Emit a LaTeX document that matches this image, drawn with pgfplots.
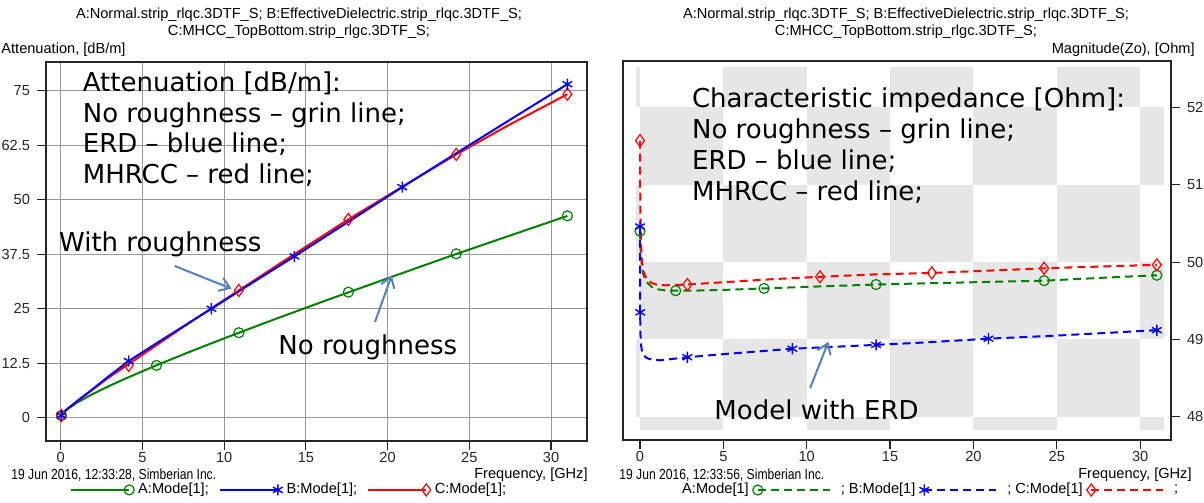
\documentclass[border=0pt]{standalone}
\usepackage{pgfplots}
\pgfplotsset{compat=1.18}
\usepackage{fontspec}
\setmainfont{Liberation Sans}
\newfontfamily\annfont{DejaVu Sans}
\newfontfamily\datefont{Liberation Sans}[FakeStretch=0.83]
\usetikzlibrary{arrows.meta}
\definecolor{dgreen}{RGB}{0,128,0}
\definecolor{arrowblue}{RGB}{84,130,190}
\definecolor{cell}{RGB}{230,230,230}
\newcommand{\smallf}{\fontsize{7.3}{8.5}\selectfont}
\newcommand{\annf}{\annfont\fontsize{13}{15}\selectfont}
\tikzset{arr/.style={arrowblue, line width=1pt, -{Straight Barb[length=5pt,width=7pt]}}}
\pgfplotsset{
  mystyle/.style={
    scale only axis,
    /pgf/number format/assume math mode=true,
    tick label style={font=\smallf, text=black!85},
    xticklabel style={inner sep=0.8pt},
    axis line style={black!85, line width=0.6pt},
    tick style={black!85, line width=0.6pt},
    major tick length=4.5pt,
    tick align=outside,
    xtick={0,5,10,15,20,25,30},
    xtick pos=lower,
    legend style={draw=none, fill=none, font=\smallf, inner sep=0pt,
      /tikz/every even column/.append style={column sep=3pt}},
  },
  endmark legend/.style={legend image code/.code={\draw[mark repeat=2, mark phase=2, ##1] plot coordinates {(0pt,0pt) (29pt,0pt)};}},
  startmark legend/.style={legend image code/.code={\draw[mark repeat=2, mark phase=1, ##1] plot coordinates {(0pt,0pt) (36pt,0pt)};}},
  no legend image/.style={legend image code/.code={}},
}
\begin{document}
\begin{tikzpicture}[font=\smallf]
\useasboundingbox (0,0) rectangle (602pt,251.5pt);
% titles and labels
\node[align=center, inner sep=0pt] at (149.5pt,239.75pt) {A:Normal.strip\_rlqc.3DTF\_S; B:EffectiveDielectric.strip\_rlqc.3DTF\_S;\\C:MHCC\_TopBottom.strip\_rlgc.3DTF\_S;};
\node[align=center, inner sep=0pt] at (453pt,239.75pt) {A:Normal.strip\_rlqc.3DTF\_S; B:EffectiveDielectric.strip\_rlqc.3DTF\_S;\\C:MHCC\_TopBottom.strip\_rlgc.3DTF\_S;};
\node[anchor=west, inner sep=0pt] at (0.5pt,226.5pt) {Attenuation, [dB/m]};
\node[anchor=east, inner sep=0pt] at (597.5pt,226.5pt) {Magnitude(Zo), [Ohm]};
\node[anchor=west, inner sep=0pt, font=\datefont\smallf] at (5.5pt,14pt) {19 Jun 2016, 12:33:28, Simberian Inc.};
\node[anchor=east, inner sep=0pt] at (294pt,14pt) {Frequency, [GHz]};
\node[anchor=west, inner sep=0pt, font=\datefont\smallf] at (309.5pt,14pt) {19 Jun 2016, 12:33:56, Simberian Inc.};
\node[anchor=east, inner sep=0pt] at (596pt,14pt) {Frequency, [GHz]};

% ---------------- left chart -----------------
\begin{axis}[mystyle,
  at={(23pt,31pt)}, anchor=south west,
  width=270.5pt, height=189.5pt,
  xmin=-0.9, xmax=32.2, ymin=-5.34, ymax=81.6,
  ytick={0,12.5,25,37.5,50,62.5,75},
  yticklabels={0,12.5,25,37.5,50,62.5,75},
  ytick pos=left,
  grid=major, major grid style={black!40, line width=0.5pt},
  legend columns=3,
  legend style={at={(0.044,-0.129)}, anchor=west},
]
\addplot[dgreen, line width=1pt, forget plot] coordinates {
 (0,0.45) (0.25,1.47) (0.5,2.22) (1,3.46) (2,5.52) (3,7.34) (4,9.04) (6,12.25) (8,15.28)
 (10,18.21) (13,22.46) (16,26.59) (20,31.98) (24,37.3) (28,42.44) (31,46.29)};
\addplot[red, line width=1pt, forget plot] coordinates {
 (0,0.5) (0.25,1.5) (0.5,2.3) (1,3.7) (2,6.6) (3,9.4) (4.16,12.3) (6,17.0) (8,22.1)
 (10.9,29.2) (14,36.8) (17.6,45.5) (21,53.2) (24.2,60.4) (27.5,67.3) (31,74.2)};
\addplot[blue, line width=1pt, forget plot] coordinates {
 (0,0.5) (0.25,1.5) (0.5,2.3) (1,3.8) (2,6.7) (3,9.7) (4.16,13.0) (6,17.4) (9.22,25.0)
 (12,31.6) (14.3,37.0) (17,43.5) (20.9,52.9) (24,60.2) (27,67.2) (31,76.5)};
\addplot[dgreen, only marks, mark=o, mark size=2.5pt, mark options={line width=0.6pt}, forget plot] coordinates {
 (0.04,0.5) (5.86,12.0) (10.9,19.5) (17.6,28.8) (24.2,37.6) (31,46.3)};
\addplot[red, only marks, mark=diamond, mark size=3pt, mark options={line width=0.6pt}, forget plot] coordinates {
 (0.04,0.5) (4.16,12.0) (10.9,29.2) (17.6,45.5) (24.2,60.4) (31,74.2)};
\addplot[blue, only marks, mark=asterisk, mark size=2.8pt, mark options={line width=0.7pt}, forget plot] coordinates {
 (0.04,0.5) (4.16,13.0) (9.22,25.0) (14.3,37.0) (20.9,52.9) (31,76.5)};
% annotations
\node[anchor=base west, inner sep=0pt, font=\annf] at (axis cs:1.33,74.9) {Attenuation [dB/m]:};
\node[anchor=base west, inner sep=0pt, font=\annf] at (axis cs:1.33,67.8) {No roughness – grin line;};
\node[anchor=base west, inner sep=0pt, font=\annf] at (axis cs:1.33,60.8) {ERD – blue line;};
\node[anchor=base west, inner sep=0pt, font=\annf] at (axis cs:1.33,53.8) {MHRCC – red line;};
\node[anchor=base west, inner sep=0pt, font=\annf] at (axis cs:-0.12,38.2) {With roughness};
\node[anchor=base west, inner sep=0pt, font=\annf] at (axis cs:13.3,14.45) {No roughness};
\draw[arr] (axis cs:6.98,34.8) -- (axis cs:10.45,29.6);
\draw[arr] (axis cs:19.23,21.95) -- (axis cs:20.25,32.66);
% legend
\addlegendimage{dgreen, line width=1pt, mark=o, mark size=2.5pt, mark options={line width=0.6pt}, endmark legend}
\addlegendentry{A:Mode[1];}
\addlegendimage{blue, line width=1pt, mark=asterisk, mark size=2.8pt, mark options={line width=0.7pt}, endmark legend}
\addlegendentry{B:Mode[1];}
\addlegendimage{red, line width=1pt, mark=diamond, mark size=3pt, mark options={line width=0.6pt}, endmark legend}
\addlegendentry{C:Mode[1];}
\end{axis}

% ---------------- right chart -----------------
\begin{axis}[mystyle,
  at={(311.5pt,31.5pt)}, anchor=south west,
  width=274pt, height=189.5pt,
  xmin=-1.02, xmax=31.85, ymin=47.70, ymax=52.60,
  ytick={48,49,50,51,52},
  ytick pos=right, yticklabel pos=right,
  legend columns=4, legend plot pos=right,
  legend style={at={(0.10,-0.132)}, anchor=west},
]
% checkerboard background
\fill[cell] (axis cs:-0.24,52) rectangle (axis cs:0,52.52);
\fill[cell] (axis cs:5,52) rectangle (axis cs:10,52.52);
\fill[cell] (axis cs:15,52) rectangle (axis cs:20,52.52);
\fill[cell] (axis cs:25,52) rectangle (axis cs:30,52.52);
\fill[cell] (axis cs:0,51) rectangle (axis cs:5,52);
\fill[cell] (axis cs:10,51) rectangle (axis cs:15,52);
\fill[cell] (axis cs:20,51) rectangle (axis cs:25,52);
\fill[cell] (axis cs:30,51) rectangle (axis cs:31.4,52);
\fill[cell] (axis cs:-0.24,50) rectangle (axis cs:0,51);
\fill[cell] (axis cs:5,50) rectangle (axis cs:10,51);
\fill[cell] (axis cs:15,50) rectangle (axis cs:20,51);
\fill[cell] (axis cs:25,50) rectangle (axis cs:30,51);
\fill[cell] (axis cs:0,49) rectangle (axis cs:5,50);
\fill[cell] (axis cs:10,49) rectangle (axis cs:15,50);
\fill[cell] (axis cs:20,49) rectangle (axis cs:25,50);
\fill[cell] (axis cs:30,49) rectangle (axis cs:31.4,50);
\fill[cell] (axis cs:-0.24,48) rectangle (axis cs:0,49);
\fill[cell] (axis cs:5,48) rectangle (axis cs:10,49);
\fill[cell] (axis cs:15,48) rectangle (axis cs:20,49);
\fill[cell] (axis cs:25,48) rectangle (axis cs:30,49);
\fill[cell] (axis cs:0,47.83) rectangle (axis cs:5,48);
\fill[cell] (axis cs:10,47.83) rectangle (axis cs:15,48);
\fill[cell] (axis cs:20,47.83) rectangle (axis cs:25,48);
\fill[cell] (axis cs:30,47.83) rectangle (axis cs:31.4,48);
% curves
\addplot[dgreen, line width=1pt, dash pattern=on 4pt off 2.5pt, forget plot] coordinates {
 (0,50.40) (0.02,50.28) (0.05,50.12) (0.1,49.98) (0.2,49.84) (0.4,49.74) (0.7,49.68) (1.0,49.65)
 (1.5,49.635) (2.14,49.63) (3,49.63) (5,49.64) (7.44,49.66) (10,49.68) (14.16,49.71) (18,49.73)
 (24.24,49.76) (28,49.80) (31,49.83)};
\addplot[red, line width=1pt, dash pattern=on 4pt off 2.5pt, forget plot] coordinates {
 (0,51.57) (0.02,50.7) (0.05,50.3) (0.1,50.05) (0.2,49.88) (0.4,49.78) (0.7,49.73) (1.0,49.71)
 (1.5,49.70) (2.84,49.71) (5,49.74) (8,49.78) (10.8,49.81) (14,49.84) (17.5,49.86) (21,49.89)
 (24.24,49.92) (28,49.945) (31,49.965)};
\addplot[blue, line width=1pt, dash pattern=on 4pt off 2.5pt, forget plot] coordinates {
 (0,50.46) (0.01,49.35) (0.02,49.1) (0.05,48.95) (0.1,48.87) (0.2,48.8) (0.4,48.76) (0.7,48.74)
 (1.2,48.73) (2.84,48.77) (5,48.81) (9.14,48.88) (14.16,48.93) (17,48.96) (20.9,49.01) (25,49.05)
 (28,49.085) (31,49.12)};
\addplot[dgreen, only marks, mark=o, mark size=2.5pt, mark options={line width=0.6pt}, forget plot] coordinates {
 (0,50.40) (2.14,49.63) (7.44,49.66) (14.16,49.71) (24.24,49.76) (31,49.83)};
\addplot[red, only marks, mark=diamond, mark size=3pt, mark options={line width=0.6pt}, forget plot] coordinates {
 (0,51.57) (2.84,49.71) (10.8,49.81) (17.5,49.86) (24.24,49.92) (31,49.965)};
\addplot[blue, only marks, mark=asterisk, mark size=2.8pt, mark options={line width=0.7pt}, forget plot] coordinates {
 (0,50.46) (0.01,49.35) (2.84,48.77) (9.14,48.88) (14.16,48.93) (20.9,49.01) (31,49.12)};
% annotations
\node[anchor=base west, inner sep=0pt, font=\annf] at (axis cs:3.1,52.0) {Characteristic impedance [Ohm]:};
\node[anchor=base west, inner sep=0pt, font=\annf] at (axis cs:3.1,51.6) {No roughness – grin line;};
\node[anchor=base west, inner sep=0pt, font=\annf] at (axis cs:3.1,51.2) {ERD – blue line;};
\node[anchor=base west, inner sep=0pt, font=\annf] at (axis cs:3.1,50.8) {MHRCC – red line;};
\node[anchor=base west, inner sep=0pt, font=\annf] at (axis cs:4.44,47.96) {Model with ERD};
\draw[arr] (axis cs:10.2,48.37) -- (axis cs:11.3,48.97);
% legend
\addlegendimage{dgreen, line width=1pt, dash pattern=on 4pt off 2.5pt, mark=o, mark size=2.5pt, mark options={solid, line width=0.6pt}, startmark legend}
\addlegendentry{A:Mode[1]}
\addlegendimage{blue, line width=1pt, dash pattern=on 4pt off 2.5pt, mark=asterisk, mark size=2.8pt, mark options={solid, line width=0.7pt}, startmark legend}
\addlegendentry{; B:Mode[1]}
\addlegendimage{red, line width=1pt, dash pattern=on 4pt off 2.5pt, mark=diamond, mark size=3pt, mark options={solid, line width=0.6pt}, startmark legend}
\addlegendentry{; C:Mode[1]}
\addlegendimage{no legend image}
\addlegendentry{;}
\end{axis}
\end{tikzpicture}
\end{document}
